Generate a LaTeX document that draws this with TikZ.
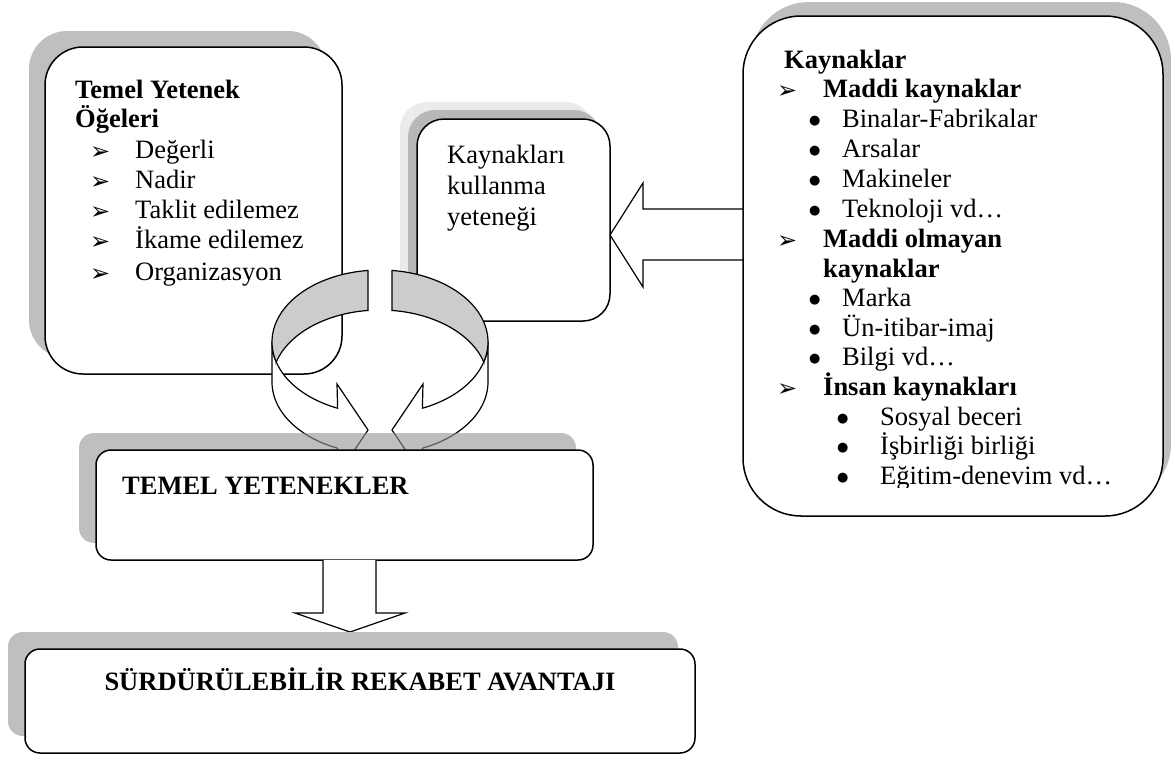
\documentclass[tikz,border=0pt]{standalone}
\usepackage{fontspec}
\setmainfont{Liberation Serif}
\newfontfamily\dejavu{DejaVu Sans}
\newcommand{\arrmark}{\smash{\raisebox{-1.5pt}{\mdseries\dejavu\fontsize{24}{24}\selectfont ➢}}}
\newcommand{\bulmark}{\raisebox{2.5pt}{\dejavu\fontsize{13}{13}\selectfont ●}}
\newcommand{\ringhalf}{%
  \filldraw[ringline, fill=white]
    plot[domain=180:246.9, samples=40] ({380+108*cos(\x)},{342-72*sin(\x)})
    -- (337,384) -- (368,430) -- (337,476)
    -- plot[domain=246.9:180, samples=40] ({380+108*cos(\x)},{382-72*sin(\x)})
    -- cycle;
  \filldraw[ringline, fill=black!20]
    plot[domain=96.4:196.1, samples=50] ({380+108*cos(\x)},{342-72*sin(\x)})
    -- plot[domain=163.9:96.4, samples=50] ({380+108*cos(\x)},{382-72*sin(\x)})
    -- cycle;
}
\begin{document}
\begin{tikzpicture}[x=1pt,y=-1pt,
  box/.style={draw=black, line width=1.5pt, fill=white},
  shad/.style={fill=black!25},
  ringline/.style={draw=black, line width=1.2pt, line join=miter},
  txt/.style={anchor=base west, inner sep=0pt, font=\fontsize{26.5}{30}\selectfont},
  btxt/.style={txt, font=\fontsize{26.5}{30}\selectfont\bfseries},
]
\useasboundingbox (0,0) rectangle (1171,758);

% right box
\fill[shad, rounded corners=58pt] (751,2) rectangle (1171,502);
\draw[box, rounded corners=58pt] (743,16) rectangle (1163,516);

% left box
\fill[shad, rounded corners=38pt] (29,31) rectangle (326,358);
\draw[box, rounded corners=38pt] (45,47) rectangle (342,374);

% middle box
\fill[black!8, rounded corners=27pt] (400,102) rectangle (593,304);
\fill[black!28, rounded corners=27pt] (408,110) rectangle (601,312);
\draw[box, rounded corners=27pt] (417,119) rectangle (610,321);

% left block arrow
\draw[ringline, fill=white] (610,235) -- (643,183) -- (643,209) -- (743,209)
  -- (743,260) -- (643,260) -- (643,287) -- cycle;

% circular arrow
\ringhalf
\begin{scope}[shift={(760,0)}, xscale=-1]
\ringhalf
\end{scope}

% temel yetenekler box
\fill[black!42, fill opacity=0.6, rounded corners=15pt] (79,433) rectangle (576,543);
\draw[box, rounded corners=15pt] (96,450) rectangle (593,560);

% down arrow
\draw[ringline, fill=white] (323,560) -- (323,613) -- (295,613) -- (350,632)
  -- (405,613) -- (376,613) -- (376,560);

% bottom box
\fill[shad, rounded corners=15pt] (8,632) rectangle (678,736);
\draw[box, rounded corners=15pt] (25,649) rectangle (695,753);

% left box text
\node[btxt] (h1) at (75,98) {Temel Yetenek};
\node[btxt] (h2) at (75,127) {Öğeleri};
\foreach \itm/\yy [count=\i] in {Değerli/158,Nadir/188,Taklit edilemez/218,İkame edilemez/248,Organizasyon/280}
  \node[txt] (lbi\i) at (90,\yy) {\makebox[45pt][l]{\arrmark}\itm};

% middle box text
\node[txt] (m1) at (447,163) {Kaynakları};
\node[txt] (m2) at (447,194) {kullanma};
\node[txt] (m3) at (447,225) {yeteneği};

% right box text
\begin{scope}
\clip (743,16) rectangle (1163,487);
\node[btxt] (r0) at (784,68) {Kaynaklar};
\node[btxt] (r1) at (777,97) {\makebox[46pt][l]{\arrmark}Maddi kaynaklar};
\foreach \itm/\yy [count=\i] in {Binalar-Fabrikalar/127,Arsalar/157,Makineler/187,Teknoloji vd…/217}
  \node[txt] (ra\i) at (809,\yy) {\makebox[33pt][l]{\bulmark}\itm};
\node[btxt] (r2) at (777,247) {\makebox[46pt][l]{\arrmark}Maddi olmayan};
\node[btxt] (r3) at (823,277) {kaynaklar};
\foreach \itm/\yy [count=\i] in {Marka/306,Ün-itibar-imaj/336,Bilgi vd…/365}
  \node[txt] (rb\i) at (809,\yy) {\makebox[33pt][l]{\bulmark}\itm};
\node[btxt] (r4) at (777,395) {\makebox[46pt][l]{\arrmark}İnsan kaynakları};
\foreach \itm/\yy [count=\i] in {Sosyal beceri/425,İşbirliği birliği/454,Eğitim-denevim vd…/484}
  \node[txt] (rc\i) at (837,\yy) {\makebox[43pt][l]{\bulmark}\itm};
\end{scope}

% bottom texts
\node[btxt] (ty) at (122,494) {TEMEL YETENEKLER};
\node[btxt, anchor=base] (sra) at (360,690) {SÜRDÜRÜLEBİLİR REKABET AVANTAJI};
\end{tikzpicture}
\end{document}
